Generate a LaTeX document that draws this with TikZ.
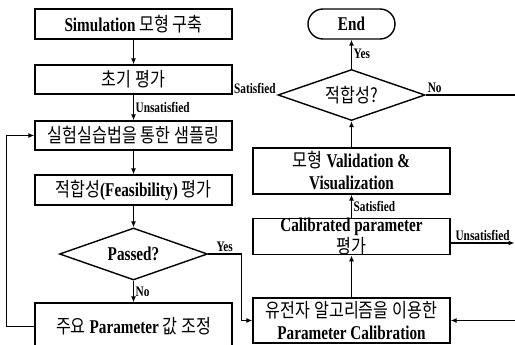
\documentclass[tikz,border=0pt]{standalone}
\usepackage{fontspec}
\setmainfont{Liberation Serif}[FakeStretch=0.78]
\newfontfamily\krfont{Noto Sans CJK KR}[FakeStretch=0.83]
\newcommand{\kr}[1]% korean text
{{\krfont\mdseries #1}}
\usetikzlibrary{shapes.geometric}
\usetikzlibrary{arrows.meta}

\begin{document}
\begin{tikzpicture}[x=1pt,y=-1pt,
	box/.style={draw, line width=1.4pt, minimum width=197pt, inner sep=0pt, align=center, font=\fontsize{19.5}{22}\selectfont\bfseries},
	decide/.style={draw, diamond, line width=1.4pt, aspect=2.9, inner sep=0pt, minimum width=148pt, minimum height=52pt, font=\fontsize{19.5}{21}\selectfont\bfseries},
	flow/.style={line width=1.2pt, -{Latex[length=6pt,width=5pt]}},
	tag/.style={font=\fontsize{14.5}{15}\selectfont\bfseries, inner sep=1.5pt}]
	\path[use as bounding box] (0,0) rectangle (515,345);
	\clip (0,0) rectangle (515,345);
	% left column
	\node[box, minimum height=30pt] (model) at (133.5,24) {Simulation \kr{모형 구축}};%1
	\node[box, minimum height=29pt] (init) at (133.5,79.5) {\kr{초기 평가}};%2
	\node[box, minimum height=29pt] (sample) at (133.5,135.5) {\kr{실험실습법을 통한 샘플링}};%3
	\node[box, minimum height=30pt] (feas) at (133.5,190) {\kr{적합성}(Feasibility) \kr{평가}};%4
	\node[decide] (passed) at (133.5,254) {Passed?};%5
	\node[box, minimum height=47pt] (adjust) at (133.5,326.5) {\kr{주요} Parameter \kr{값 조정}};%6
	% right column
	\node[box, rounded corners=15pt, minimum width=87pt, minimum height=30pt] (end) at (351.5,24) {End};%7
	\node[decide, minimum width=147pt, minimum height=51pt] (fit) at (351.5,95) {\kr{적합성?}};%8
	\node[box, minimum height=46pt] (valid) at (351.5,171) {\kr{모형} Validation \&\\Visualization};%9
	\node[box, minimum height=35pt, font=\fontsize{19.5}{16.5}\selectfont\bfseries] (calib) at (351.5,236.5) {Calibrated parameter\\\kr{평가}};%10
	\node[box, minimum height=45pt] (genetic) at (351.5,320.5) {\kr{유전자 알고리즘을 이용한}\\Parameter Calibration};%11
	\coordinate (noOut) at (515,95);
	\coordinate (calibOut) at (514.5,243);
	\coordinate (geneIn) at (515,320.5);
	% arrows
	\draw[flow] (model) -- (init);
	\draw[flow] (init) -- node[tag, right]{Unsatisfied} (sample);
	\draw[flow] (sample) -- (feas);
	\draw[flow] (feas) -- (passed);
	\draw[flow] (passed) -- node[tag, right]{No} (adjust);
	\draw[flow] (adjust.west) -- ++(-28,0) |- (sample.west);
	\draw[flow] (passed.east) -- node[tag, above]{Yes} ++(33,0) |- (genetic.west);
	\draw[flow] (genetic) -- (calib);
	\draw[flow] (calib) -- node[tag, right]{Satisfied} (valid);
	\draw[flow] (valid) -- (fit);
	\draw[flow] (fit) -- node[tag, right]{Yes} (end);
	\draw[line width=1.2pt] (fit.east) node[tag, above right]{No} -- (noOut);
	\node[tag, above left] (sat) at (fit.west) {Satisfied};
	\draw[flow] ([yshift=-6.5pt]calib.east) -- node[tag, above]{Unsatisfied} (calibOut);
	\draw[flow] (geneIn) -- (genetic.east);
\end{tikzpicture}
\end{document}
